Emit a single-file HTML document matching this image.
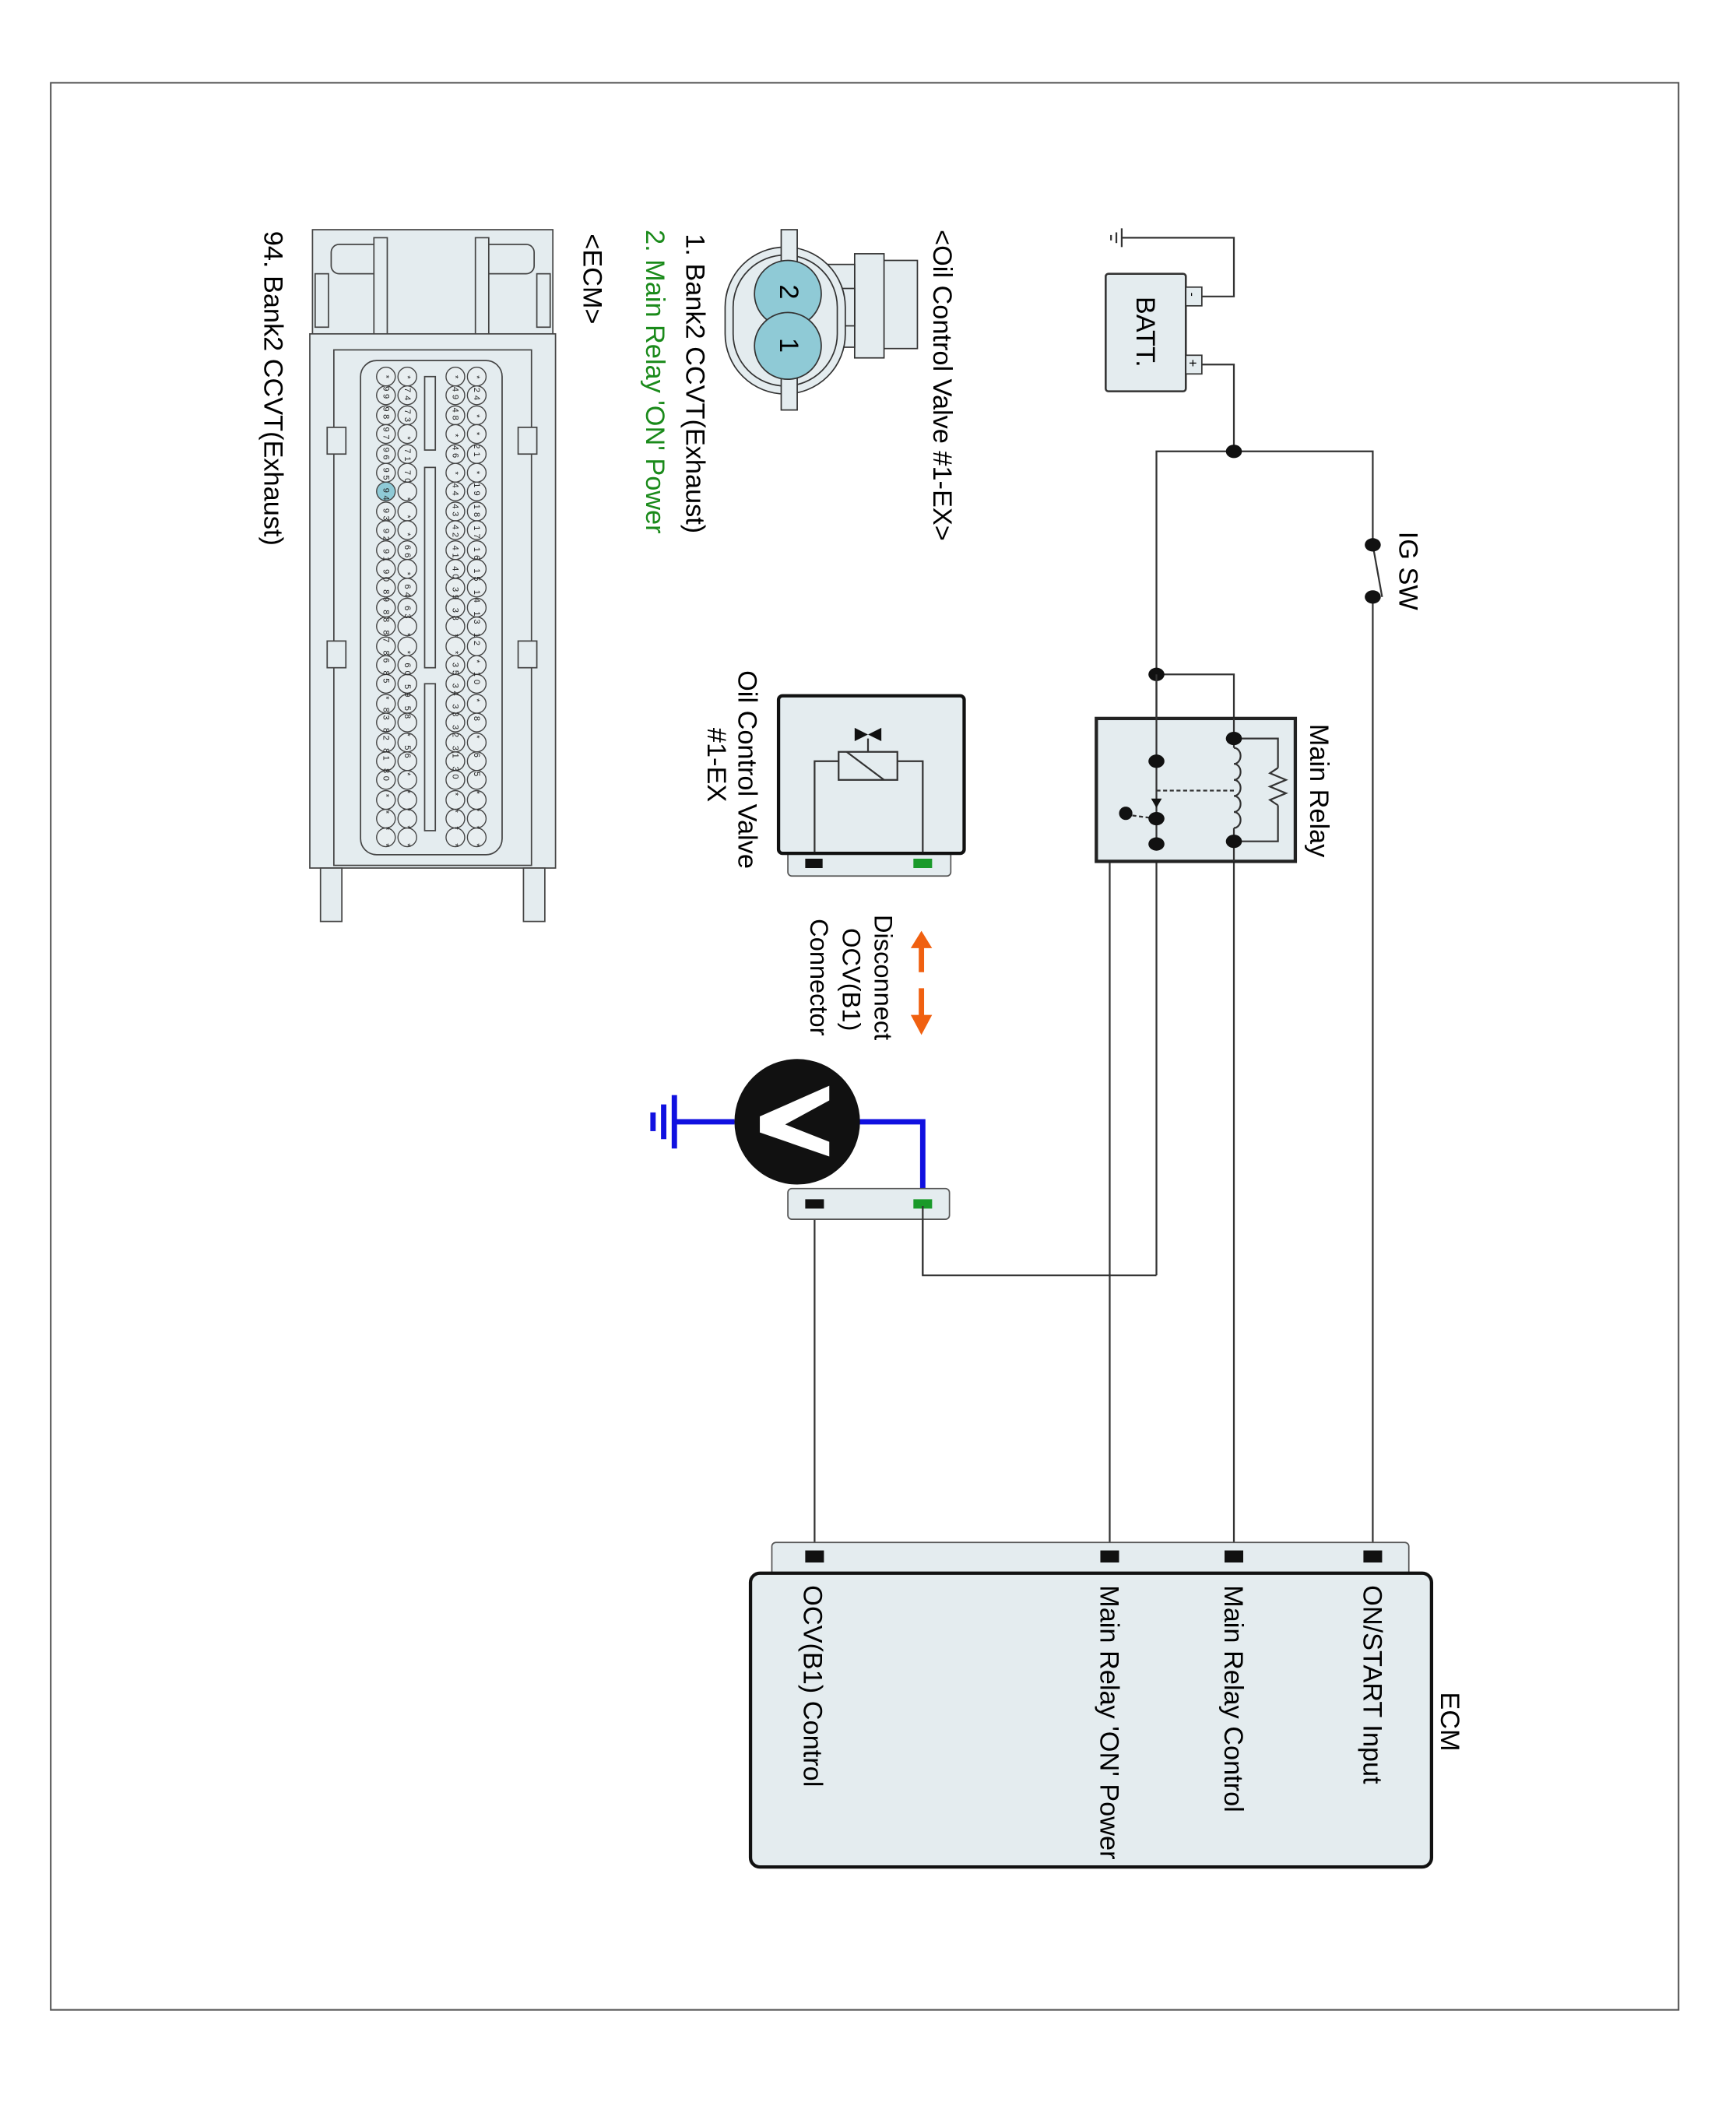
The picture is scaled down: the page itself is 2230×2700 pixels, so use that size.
<!DOCTYPE html>
<html><head><meta charset="utf-8"><style>html,body{margin:0;padding:0;background:#fff}svg{display:block}text{font-family:"Liberation Sans",Arial,sans-serif}</style></head>
<body>
<svg width="2230" height="2700" viewBox="0 0 1300 1574" xmlns="http://www.w3.org/2000/svg">
<rect x="38" y="62" width="1219" height="1443" fill="none" stroke="#555" stroke-width="1.2"/>

<g stroke="#333" stroke-width="1.3" fill="none">
<polyline points="900,222 924,222 924,178 840,178"/>
<polyline points="900,273 924,273 924,338"/>
<polyline points="866,955 866,338 1028,338 1028,408"/>
<polyline points="1028,447 1028,1165"/>
<line x1="1028" y1="408" x2="1035" y2="447"/>
<polyline points="866,505 924,505 924,553"/>
<line x1="924" y1="630" x2="924" y2="1165"/>
<polyline points="866,632 831,632 831,1165"/>
<polyline points="866,955 691,955 691,903"/>
<line x1="610" y1="903" x2="610" y2="1165"/>
</g>
<g stroke="#333" stroke-width="1.3"><line x1="840" y1="171" x2="840" y2="185"/><line x1="836" y1="174" x2="836" y2="182"/><line x1="832" y1="176" x2="832" y2="180"/></g>
<rect x="828" y="205" width="60" height="88" rx="2" fill="#e4ecef" stroke="#333" stroke-width="1.5"/>
<rect x="888" y="215" width="12" height="14" fill="#e4ecef" stroke="#333"/>
<rect x="888" y="266" width="12" height="14" fill="#e4ecef" stroke="#333"/>
<text transform="translate(890,219) rotate(90)" font-size="9">-</text>
<text transform="translate(890,269) rotate(90)" font-size="10">+</text>
<text transform="translate(851,222) rotate(90)" font-size="20">BATT.</text>
<g fill="#111">
<ellipse cx="924" cy="338" rx="6" ry="5"/>
<ellipse cx="1028" cy="408" rx="6" ry="5"/><ellipse cx="1028" cy="447" rx="6" ry="5"/>
<ellipse cx="866" cy="505" rx="6" ry="5"/>
</g>
<text transform="translate(1048,398) rotate(90)" font-size="20">IG SW</text>

<rect x="821" y="538" width="149" height="107" fill="#e4ecef" stroke="#222" stroke-width="2.5"/>
<g stroke="#333" stroke-width="1.3" fill="none">
<line x1="866" y1="505" x2="866" y2="632"/>
<line x1="924" y1="538" x2="924" y2="560"/>
<line x1="924" y1="620" x2="924" y2="645"/>
<polyline points="924,553 957,553 957,575"/>
<polyline points="957,603 957,630 924,630"/>
<path d="M924,560 a5,6 0 0 1 0,12 a5,6 0 0 1 0,12 a5,6 0 0 1 0,12 a5,6 0 0 1 0,12 a5,6 0 0 1 0,12"/>
<polyline points="957,575 951,579 963,584 951,589 963,594 951,599 957,603"/>
<line x1="866" y1="592" x2="924" y2="592" stroke-dasharray="3,2"/>
<line x1="843" y1="610" x2="866" y2="613" stroke-dasharray="3,2"/>
</g>
<g fill="#111">
<ellipse cx="924" cy="553" rx="6" ry="5"/><ellipse cx="924" cy="630" rx="6" ry="5"/>
<ellipse cx="866" cy="570" rx="6" ry="5"/><ellipse cx="866" cy="613" rx="6" ry="5"/><ellipse cx="866" cy="632" rx="6" ry="5"/>
<ellipse cx="843" cy="609" rx="5" ry="5"/>
<polygon points="862,598 870,598 866,605"/>
</g>
<text transform="translate(981,542) rotate(90)" font-size="20">Main Relay</text>

<rect x="590" y="636" width="122" height="20" rx="3" fill="#e4ecef" stroke="#555"/>
<rect x="603" y="643" width="13" height="7" fill="#111"/><rect x="684" y="643" width="14" height="7" fill="#1a9a2a"/>
<rect x="583" y="521" width="139" height="118" rx="3" fill="#e4ecef" stroke="#111" stroke-width="2.5"/>
<g stroke="#333" stroke-width="1.3" fill="none">
<polyline points="610,638 610,570 628,570"/>
<polyline points="691,638 691,570 672,570"/>
<rect x="628" y="563" width="44" height="21"/>
<line x1="634" y1="563" x2="662" y2="584"/>
<line x1="650" y1="563" x2="650" y2="553"/>
</g>
<polygon points="640,545 650,550 660,545 660,555 650,550 640,555" fill="#111"/>
<text transform="translate(553,502) rotate(90)" font-size="20">Oil Control Valve</text>
<text transform="translate(530,545) rotate(90)" font-size="20">#1-EX</text>

<g stroke="#f06010" stroke-width="4" fill="#f06010">
<line x1="690" y1="706" x2="690" y2="728"/><polygon points="682,710 698,710 690,697" stroke="none"/>
<line x1="690" y1="740" x2="690" y2="764"/><polygon points="682,760 698,760 690,775" stroke="none"/>
</g>
<text transform="translate(655,685) rotate(90)" font-size="19">Disconnect</text>
<text transform="translate(631,695) rotate(90)" font-size="19">OCV(B1)</text>
<text transform="translate(607,688) rotate(90)" font-size="19">Connector</text>

<g stroke="#1010e0" stroke-width="4" fill="none">
<polyline points="640,840 691,840 691,900"/>
<line x1="550" y1="840" x2="505" y2="840"/>
<line x1="505" y1="820" x2="505" y2="860"/>
<line x1="497" y1="827" x2="497" y2="853"/>
<line x1="489" y1="833" x2="489" y2="847"/>
</g>
<circle cx="597" cy="840" r="47" fill="#111"/>
<polygon points="621,813 621,824 588,842 621,855 621,866 569,848 569,836" fill="#fff"/>
<rect x="590" y="890" width="121" height="23" rx="3" fill="#e4ecef" stroke="#555"/>
<rect x="603" y="898" width="14" height="7" fill="#111"/><rect x="684" y="898" width="14" height="7" fill="#1a9a2a"/>
<line x1="691" y1="903" x2="691" y2="955" stroke="#333" stroke-width="1.3"/>

<rect x="578" y="1155" width="477" height="30" rx="3" fill="#e4ecef" stroke="#555"/>
<g fill="#111"><rect x="603" y="1161" width="14" height="9"/><rect x="824" y="1161" width="14" height="9"/><rect x="917" y="1161" width="14" height="9"/><rect x="1021" y="1161" width="14" height="9"/></g>
<rect x="562" y="1178" width="510" height="220" rx="7" fill="#e4ecef" stroke="#111" stroke-width="2.5"/>
<text transform="translate(1079,1267) rotate(90)" font-size="20">ECM</text>
<text transform="translate(1021,1187) rotate(90)" font-size="20">ON/START Input</text>
<text transform="translate(917,1187) rotate(90)" font-size="20">Main Relay Control</text>
<text transform="translate(824,1187) rotate(90)" font-size="20">Main Relay 'ON' Power</text>
<text transform="translate(602,1187) rotate(90)" font-size="20">OCV(B1) Control</text>

<g stroke="#333" stroke-width="1" fill="#e4ecef">
<rect x="660" y="195" width="27" height="66"/>
<rect x="640" y="190" width="22" height="78"/>
<rect x="618" y="198" width="22" height="62"/>
<rect x="612" y="216" width="28" height="28"/>
<rect x="543" y="185" width="90" height="110" rx="45"/>
<rect x="549" y="191" width="78" height="98" rx="39"/>
<rect x="585" y="172" width="12" height="135"/>
<circle cx="590" cy="220" r="25" fill="#8fcad6"/>
<circle cx="590" cy="259" r="25" fill="#8fcad6"/>
</g>
<text transform="translate(584,213) rotate(90)" font-size="20">2</text>
<text transform="translate(584,253) rotate(90)" font-size="20">1</text>
<text transform="translate(699,172) rotate(90)" font-size="20">&lt;Oil Control Valve #1-EX&gt;</text>
<text transform="translate(514,175) rotate(90)" font-size="20">1. Bank2 CCVT(Exhaust)</text>
<text transform="translate(484,172) rotate(90)" font-size="20" fill="#1a8a1a">2. Main Relay 'ON' Power</text>
<text transform="translate(437,175) rotate(90)" font-size="20">&lt;ECM&gt;</text>
<text transform="translate(198,173) rotate(90)" font-size="20">94. Bank2 CCVT(Exhaust)</text>

<g stroke="#444" stroke-width="1" fill="#e4ecef">
<rect x="234" y="172" width="180" height="80"/>
<rect x="248" y="183" width="40" height="22" rx="6"/><rect x="360" y="183" width="40" height="22" rx="6"/>
<rect x="280" y="178" width="10" height="80"/><rect x="356" y="178" width="10" height="80"/>
<rect x="236" y="205" width="10" height="40"/><rect x="402" y="205" width="10" height="40"/>
<rect x="232" y="250" width="184" height="400"/>
<rect x="240" y="650" width="16" height="40"/><rect x="392" y="650" width="16" height="40"/>
<rect x="250" y="262" width="148" height="386"/>
<rect x="270" y="270" width="106" height="370" rx="12"/>
<rect x="245" y="480" width="14" height="20"/><rect x="388" y="480" width="14" height="20"/>
<rect x="245" y="320" width="14" height="20"/><rect x="388" y="320" width="14" height="20"/>
<rect x="318" y="282" width="8" height="55"/><rect x="318" y="350" width="8" height="150"/><rect x="318" y="512" width="8" height="110"/>
</g>
<g stroke="#444" stroke-width="0.8" fill="#e8eef0">
<circle cx="289" cy="282" r="7"/><circle cx="289" cy="296" r="7"/><circle cx="289" cy="311" r="7"/><circle cx="289" cy="325" r="7"/><circle cx="289" cy="340" r="7"/><circle cx="289" cy="354" r="7"/><circle cx="289" cy="368" r="7" fill="#8fcad6"/><circle cx="289" cy="383" r="7"/><circle cx="289" cy="397" r="7"/><circle cx="289" cy="412" r="7"/><circle cx="289" cy="426" r="7"/><circle cx="289" cy="440" r="7"/><circle cx="289" cy="455" r="7"/><circle cx="289" cy="469" r="7"/><circle cx="289" cy="484" r="7"/><circle cx="289" cy="498" r="7"/><circle cx="289" cy="512" r="7"/><circle cx="289" cy="527" r="7"/><circle cx="289" cy="541" r="7"/><circle cx="289" cy="556" r="7"/><circle cx="289" cy="570" r="7"/><circle cx="289" cy="584" r="7"/><circle cx="289" cy="599" r="7"/><circle cx="289" cy="613" r="7"/><circle cx="289" cy="627" r="7"/>
<circle cx="305" cy="282" r="7"/><circle cx="305" cy="296" r="7"/><circle cx="305" cy="311" r="7"/><circle cx="305" cy="325" r="7"/><circle cx="305" cy="340" r="7"/><circle cx="305" cy="354" r="7"/><circle cx="305" cy="368" r="7"/><circle cx="305" cy="383" r="7"/><circle cx="305" cy="397" r="7"/><circle cx="305" cy="412" r="7"/><circle cx="305" cy="426" r="7"/><circle cx="305" cy="440" r="7"/><circle cx="305" cy="455" r="7"/><circle cx="305" cy="469" r="7"/><circle cx="305" cy="484" r="7"/><circle cx="305" cy="498" r="7"/><circle cx="305" cy="512" r="7"/><circle cx="305" cy="527" r="7"/><circle cx="305" cy="541" r="7"/><circle cx="305" cy="556" r="7"/><circle cx="305" cy="570" r="7"/><circle cx="305" cy="584" r="7"/><circle cx="305" cy="599" r="7"/><circle cx="305" cy="613" r="7"/><circle cx="305" cy="627" r="7"/>
<circle cx="341" cy="282" r="7"/><circle cx="341" cy="296" r="7"/><circle cx="341" cy="311" r="7"/><circle cx="341" cy="325" r="7"/><circle cx="341" cy="340" r="7"/><circle cx="341" cy="354" r="7"/><circle cx="341" cy="368" r="7"/><circle cx="341" cy="383" r="7"/><circle cx="341" cy="397" r="7"/><circle cx="341" cy="412" r="7"/><circle cx="341" cy="426" r="7"/><circle cx="341" cy="440" r="7"/><circle cx="341" cy="455" r="7"/><circle cx="341" cy="469" r="7"/><circle cx="341" cy="484" r="7"/><circle cx="341" cy="498" r="7"/><circle cx="341" cy="512" r="7"/><circle cx="341" cy="527" r="7"/><circle cx="341" cy="541" r="7"/><circle cx="341" cy="556" r="7"/><circle cx="341" cy="570" r="7"/><circle cx="341" cy="584" r="7"/><circle cx="341" cy="599" r="7"/><circle cx="341" cy="613" r="7"/><circle cx="341" cy="627" r="7"/>
<circle cx="357" cy="282" r="7"/><circle cx="357" cy="296" r="7"/><circle cx="357" cy="311" r="7"/><circle cx="357" cy="325" r="7"/><circle cx="357" cy="340" r="7"/><circle cx="357" cy="354" r="7"/><circle cx="357" cy="368" r="7"/><circle cx="357" cy="383" r="7"/><circle cx="357" cy="397" r="7"/><circle cx="357" cy="412" r="7"/><circle cx="357" cy="426" r="7"/><circle cx="357" cy="440" r="7"/><circle cx="357" cy="455" r="7"/><circle cx="357" cy="469" r="7"/><circle cx="357" cy="484" r="7"/><circle cx="357" cy="498" r="7"/><circle cx="357" cy="512" r="7"/><circle cx="357" cy="527" r="7"/><circle cx="357" cy="541" r="7"/><circle cx="357" cy="556" r="7"/><circle cx="357" cy="570" r="7"/><circle cx="357" cy="584" r="7"/><circle cx="357" cy="599" r="7"/><circle cx="357" cy="613" r="7"/><circle cx="357" cy="627" r="7"/>
</g>
<g font-size="6.5" fill="#222">
<text transform="translate(287,277) rotate(90)" textLength="357" lengthAdjust="spacing" xml:space="preserve"> * 99 98 97 96 95 94 93 92 91 90 89 88 87 86 85  * 83 82 81 80  *  *  *  *</text>
<text transform="translate(303,277) rotate(90)" textLength="357" lengthAdjust="spacing" xml:space="preserve"> * 74 73  * 71 70  *  *  * 66  * 64 63  *  * 60 59 58  * 56  *  *  *  *  *</text>
<text transform="translate(339,277) rotate(90)" textLength="357" lengthAdjust="spacing" xml:space="preserve"> * 49 48  * 46  * 44 43 42 41 40 39 38  *  * 35 34 33 32 31 30  *  *  *  *</text>
<text transform="translate(355,277) rotate(90)" textLength="357" lengthAdjust="spacing" xml:space="preserve"> * 24  *  * 21  * 19 18 17 16 15 14 13 12  * 10  *  8  *  6  5  *  *  *  *</text>
</g>
</svg>
</body></html>
